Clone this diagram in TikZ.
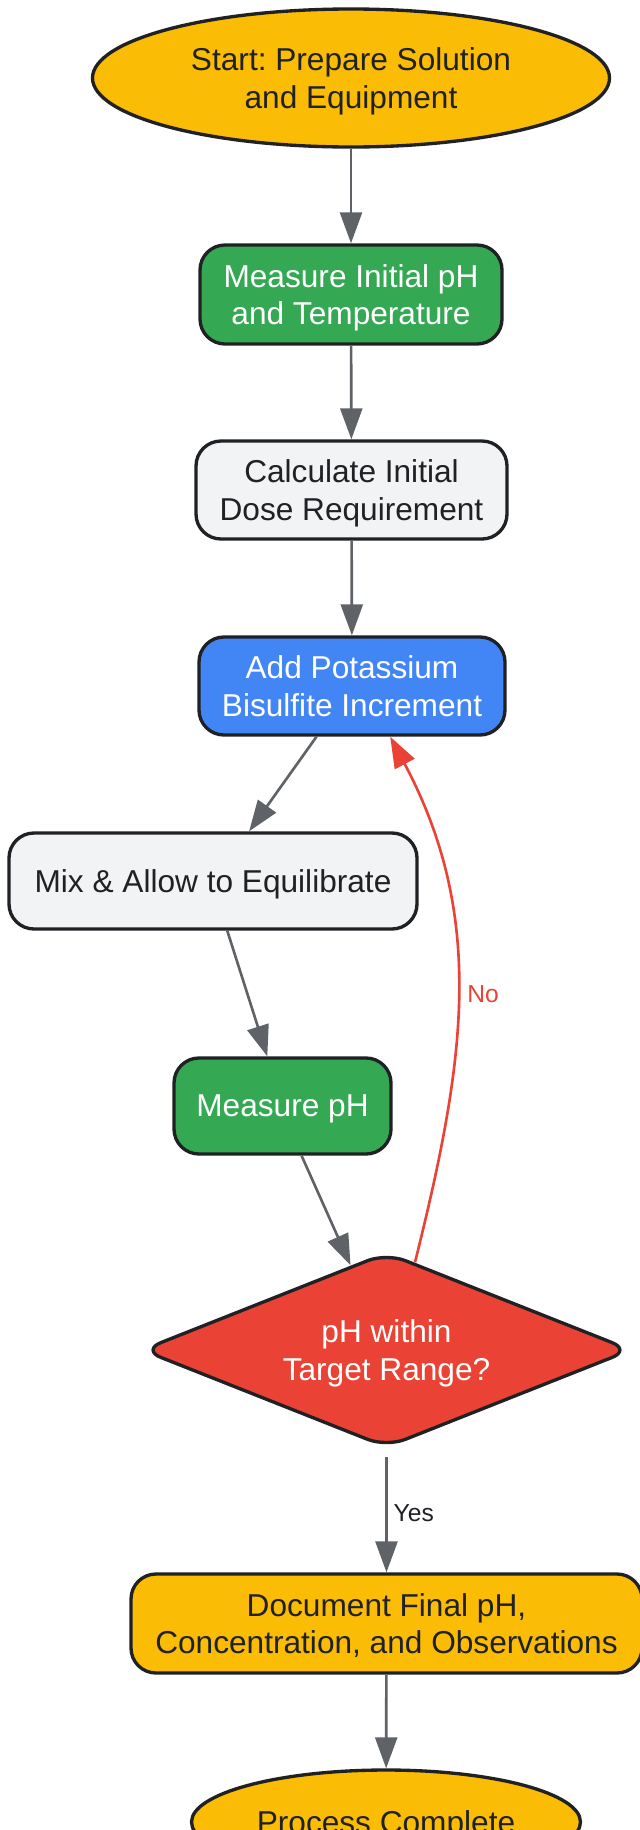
\documentclass[tikz,border=0pt]{standalone}
\usepackage{fontspec}
\setmainfont{Liberation Sans}
\frenchspacing
\usepackage{tikz}
\usetikzlibrary{shapes,arrows.meta}
\definecolor{termyellow}{HTML}{FBBC05}
\definecolor{stepgreen}{HTML}{34A853}
\definecolor{stepblue}{HTML}{4285F4}
\definecolor{stepgray}{HTML}{F1F3F4}
\definecolor{checkred}{HTML}{EA4335}
\definecolor{edgedark}{HTML}{202124}
\definecolor{arrowgray}{HTML}{5F6368}

\begin{document}
\begin{tikzpicture}[scale=1]
				\tikzstyle{every node}=[font=\fontsize{18}{21.5}\selectfont, align=center]
				\tikzstyle{stepbox}=[rectangle, draw=edgedark, line width=1.9pt, rounded corners=0.5cm, inner sep=0pt, text depth=0pt, minimum height=1.96cm]
				\tikzstyle{termnode}=[ellipse, draw=edgedark, line width=1.9pt, inner sep=0pt, text depth=0pt, fill=termyellow, text=edgedark]
				\tikzstyle{flow}=[draw=arrowgray, line width=1.5pt, -{Triangle[length=0.62cm,width=0.44cm]}]
				\tikzstyle{backflow}=[draw=checkred, line width=1.5pt, -{Triangle[length=0.62cm,width=0.44cm]}]
				\tikzstyle{edgelabel}=[font=\fontsize{14}{16}\selectfont]
				
				\useasboundingbox (0,0) rectangle (12.78,-36.6);
				
				\node[termnode, minimum width=10.34cm, minimum height=2.76cm] (start) at (7.02,-1.56) {Start: Prepare Solution\\and Equipment};
				\node[stepbox, fill=stepgreen, text=white, minimum width=6.04cm, minimum height=1.98cm] (initph) at (7.02,-5.89) {Measure Initial pH\\and Temperature};
				\node[stepbox, fill=stepgray, text=edgedark, minimum width=6.22cm] (dose) at (7.03,-9.8) {Calculate Initial\\Dose Requirement};
				\node[stepbox, fill=stepblue, text=white, minimum width=6.12cm] (addkbs) at (7.04,-13.72) {Add Potassium\\Bisulfite Increment};
				\node[stepbox, fill=stepgray, text=edgedark, minimum width=8.16cm, minimum height=1.92cm] (mix) at (4.26,-17.62) {Mix \& Allow to Equilibrate};
				\node[stepbox, fill=stepgreen, text=white, minimum width=4.34cm, minimum height=1.92cm] (measph) at (5.65,-22.12) {Measure pH};
				\node[diamond, shape aspect=2.5, draw=edgedark, line width=1.9pt, rounded corners=0.4cm, inner sep=0pt, text depth=0pt, fill=checkred, text=white, minimum width=9.8cm, minimum height=3.9cm] (check) at (7.73,-27.0) {pH within\\Target Range?};
				\node[stepbox, fill=termyellow, text=edgedark, minimum width=10.22cm, minimum height=1.98cm] (record) at (7.73,-32.47) {Document Final pH,\\Concentration, and Observations};
				\node[termnode, minimum width=7.78cm, minimum height=2.08cm] (done) at (7.72,-36.44) {Process Complete};
				
				\draw[flow] (start) -- (initph);
				\draw[flow] (initph) -- (dose);
				\draw[flow] (dose) -- (addkbs);
				\draw[flow] (addkbs.235) -- (mix.54);
				\draw[flow] (mix.286) -- (measph.107);
				\draw[flow] (measph.291) -- (check.113);
				\draw[flow, shorten <=0.16cm] (check.south) -- node[edgelabel, right, pos=0.52, text=edgedark] (yeslbl) {Yes} (record);
				\draw[flow] (record) -- (done);
				
				% retry loop
				\draw[backflow] (check.72) to[out=76,in=-62] (addkbs.-53);
				\node[edgelabel, text=checkred] (nolbl) at (9.66,-19.88) {No};
				
\end{tikzpicture}
\end{document}
